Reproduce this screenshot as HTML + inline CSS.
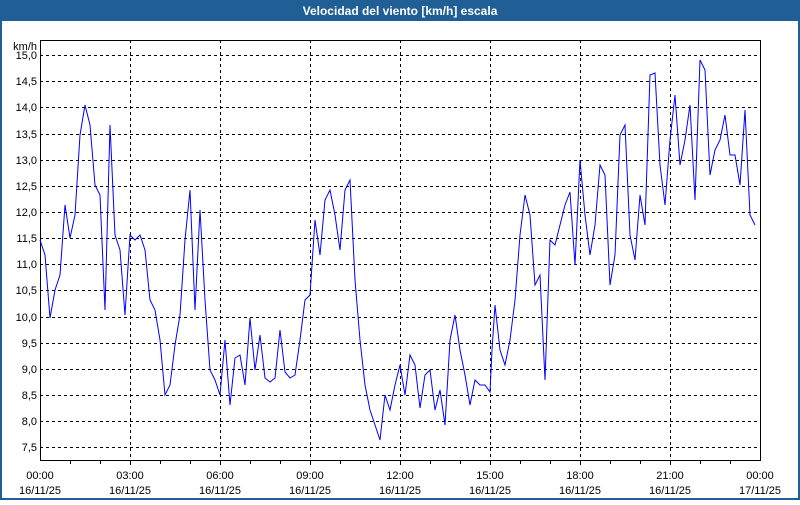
<!DOCTYPE html>
<html><head><style>
body{margin:0;width:800px;height:500px;overflow:hidden;background:#fff;font-family:"Liberation Sans",sans-serif}
</style></head><body>
<svg width="800" height="500" xmlns="http://www.w3.org/2000/svg" font-family="Liberation Sans, sans-serif">
<rect x="0" y="0" width="800" height="500" fill="#1f5f96"/>
<rect x="2" y="21" width="796" height="477" fill="#fff"/>
<text x="400" y="15" fill="#fff" font-size="12" font-weight="bold" text-anchor="middle">Velocidad del viento [km/h] escala</text>
<g stroke="#000" stroke-dasharray="3,3" stroke-width="1">
<line x1="40" x2="760" y1="55.5" y2="55.5"/><line x1="40" x2="760" y1="81.5" y2="81.5"/><line x1="40" x2="760" y1="107.5" y2="107.5"/><line x1="40" x2="760" y1="134.5" y2="134.5"/><line x1="40" x2="760" y1="160.5" y2="160.5"/><line x1="40" x2="760" y1="186.5" y2="186.5"/><line x1="40" x2="760" y1="212.5" y2="212.5"/><line x1="40" x2="760" y1="238.5" y2="238.5"/><line x1="40" x2="760" y1="264.5" y2="264.5"/><line x1="40" x2="760" y1="290.5" y2="290.5"/><line x1="40" x2="760" y1="317.5" y2="317.5"/><line x1="40" x2="760" y1="343.5" y2="343.5"/><line x1="40" x2="760" y1="369.5" y2="369.5"/><line x1="40" x2="760" y1="395.5" y2="395.5"/><line x1="40" x2="760" y1="421.5" y2="421.5"/><line x1="40" x2="760" y1="447.5" y2="447.5"/>
<line x1="130.5" x2="130.5" y1="40" y2="460"/><line x1="220.5" x2="220.5" y1="40" y2="460"/><line x1="310.5" x2="310.5" y1="40" y2="460"/><line x1="400.5" x2="400.5" y1="40" y2="460"/><line x1="490.5" x2="490.5" y1="40" y2="460"/><line x1="580.5" x2="580.5" y1="40" y2="460"/><line x1="670.5" x2="670.5" y1="40" y2="460"/>
</g>
<rect x="40.5" y="40.5" width="720" height="420" fill="none" stroke="#000"/>
<g stroke="#000">
<path d="M70.5 460v4M100.5 460v4M130.5 460v5M160.5 460v4M190.5 460v4M220.5 460v5M250.5 460v4M280.5 460v4M310.5 460v5M340.5 460v4M370.5 460v4M400.5 460v5M430.5 460v4M460.5 460v4M490.5 460v5M520.5 460v4M550.5 460v4M580.5 460v5M610.5 460v4M640.5 460v4M670.5 460v5M700.5 460v4M730.5 460v4"/>
</g>
<polyline fill="none" stroke="#0000ff" stroke-width="1" points="40,240 45,255 50,318 55,290 60,275 65,205 70,238 75,215 80,135 85,105 90,125 95,185 100,195 105,310 110,125 115,235 120,250 125,315 130,235 135,240 140,235 145,250 150,300 155,310 160,340 165,395 170,385 175,345 180,315 185,240 190,190 195,310 200,210 205,300 210,370 215,380 220,395 225,340 230,405 235,358 240,355 245,385 250,318 255,370 260,335 265,378 270,382 275,378 280,330 285,372 290,378 295,375 300,340 305,300 310,295 315,220 320,255 325,200 330,190 335,215 340,250 345,190 350,180 355,280 360,340 365,385 370,410 375,425 380,440 385,395 390,410 395,385 400,365 405,395 410,355 415,365 420,408 425,375 430,370 435,410 440,390 445,425 450,340 455,315 460,350 465,375 470,405 475,380 480,385 485,385 490,392 492,350 495,305 500,350 505,365 510,340 515,300 520,235 525,195 530,215 535,285 540,275 545,380 550,240 555,245 560,225 565,205 570,192 575,265 580,160 585,215 590,255 595,225 600,165 605,175 610,285 615,255 620,135 625,125 630,235 635,260 640,195 645,225 650,75 655,73 660,165 665,205 670,140 675,95 680,165 685,140 690,105 695,200 700,60 705,70 710,175 715,150 720,140 725,115 730,155 735,155 740,185 745,110 750,215 755,225"/>
<g font-size="11" fill="#000" text-anchor="end">
<text x="37" y="50">km/h</text>
<text x="37" y="59">15,0</text><text x="37" y="85">14,5</text><text x="37" y="111">14,0</text><text x="37" y="138">13,5</text><text x="37" y="164">13,0</text><text x="37" y="190">12,5</text><text x="37" y="216">12,0</text><text x="37" y="242">11,5</text><text x="37" y="268">11,0</text><text x="37" y="294">10,5</text><text x="37" y="321">10,0</text><text x="37" y="347">9,5</text><text x="37" y="373">9,0</text><text x="37" y="399">8,5</text><text x="37" y="425">8,0</text><text x="37" y="451">7,5</text>
</g>
<g font-size="11" fill="#000" text-anchor="middle">
<text x="40" y="479">00:00</text><text x="40" y="494">16/11/25</text>
<text x="130" y="479">03:00</text><text x="130" y="494">16/11/25</text>
<text x="220" y="479">06:00</text><text x="220" y="494">16/11/25</text>
<text x="310" y="479">09:00</text><text x="310" y="494">16/11/25</text>
<text x="400" y="479">12:00</text><text x="400" y="494">16/11/25</text>
<text x="490" y="479">15:00</text><text x="490" y="494">16/11/25</text>
<text x="580" y="479">18:00</text><text x="580" y="494">16/11/25</text>
<text x="670" y="479">21:00</text><text x="670" y="494">16/11/25</text>
<text x="760" y="479">00:00</text><text x="760" y="494">17/11/25</text>
</g>
</svg>
</body></html>
